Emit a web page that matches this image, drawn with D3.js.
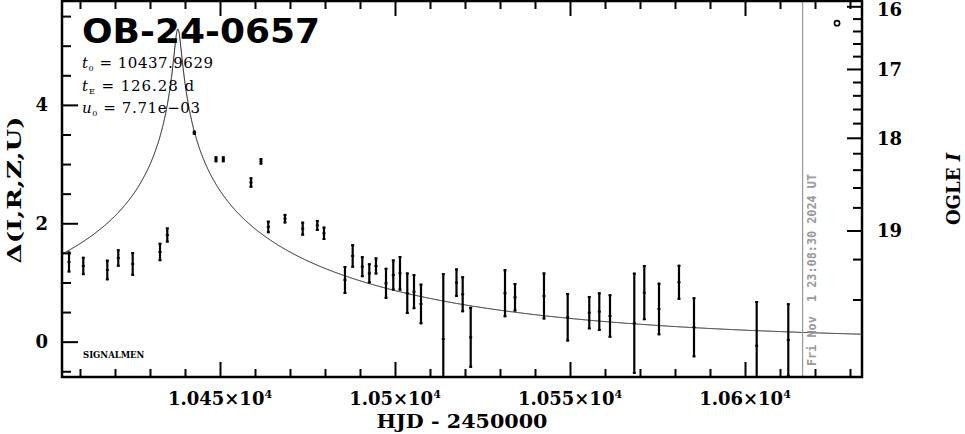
<!DOCTYPE html>
<html><head><meta charset="utf-8">
<script src="https://cdn.jsdelivr.net/npm/d3@7"></script>
<style>
html,body{margin:0;padding:0;background:#fff;}
svg{display:block;}
</style></head><body>
<svg id="chart" width="965" height="434"></svg>
<script>
// ---------------- data ----------------
const eventName = "OB-24-0657";
const t0 = 10437.9629, tE = 126.28, u0 = 7.71e-3;
const paramLines = [
  {sym: "t", sub: "0", val: " = 10437.9629"},
  {sym: "t", sub: "E", val: " = 126.28 d"},
  {sym: "u", sub: "0", val: " = 7.71e\u221203"}
];
const hjd = [10406.86,10410.94,10417.80,10420.94,10425.06,10432.86,10434.94,10442.66,10448.86,10450.94,
             10458.86,10461.71,10463.80,10468.57,10473.63,10477.80,10479.71,10485.71,10487.91,10490.66,
             10492.66,10494.57,10497.43,10499.51,10501.43,10503.51,10505.43,10507.43,10513.80,10517.57,
             10519.34,10521.63,10531.43,10534.29,10542.57,10549.34,10555.51,10558.37,10561.43,10568.37,
             10571.23,10575.43,10581.14,10585.43,10603.34,10612.37];
const delta = [1.346,1.279,1.211,1.414,1.313,1.515,1.802,3.530,3.081,3.081,
               2.689,3.047,1.938,2.078,1.909,1.963,1.831,1.042,1.448,1.267,
               1.155,1.279,0.986,1.127,1.155,0.818,0.845,0.637,0.046,0.997,
               0.801,0.074,0.818,0.750,0.772,0.412,0.490,0.507,0.434,0.311,
               0.828,0.552,1.003,0.243,-0.068,0.029];
const err = [0.177,0.155,0.174,0.147,0.200,0.155,0.127,0.035,0.050,0.050,
             0.088,0.056,0.106,0.080,0.118,0.093,0.113,0.236,0.198,0.177,
             0.169,0.144,0.262,0.262,0.292,0.351,0.296,0.343,1.110,0.240,
             0.304,0.515,0.405,0.240,0.397,0.409,0.282,0.326,0.367,0.855,
             0.465,0.444,0.296,0.507,0.755,0.620];
const markerHJD = [10626.3];
const markerDelta = [5.38];
const nowHJD = 10616.46;
const nowLabel = "Fri Nov  1 23:08:30 2024 UT";
const xDomain = [10404.86, 10633.43];
const yDomain = [-0.597, 5.755];
const xMinorTicks = d3.range(10410, 10640, 10);
const xMajorTicks = [10450, 10500, 10550, 10600];
const xMajorLabels = [["1.045\u00d710","4"],["1.05\u00d710","4"],["1.055\u00d710","4"],["1.06\u00d710","4"]];
const yMinorTicks = d3.range(-0.5, 5.51, 0.5);
const yMajorTicks = [0, 2, 4];
const magMinorTicks = d3.range(16, 19.41, 0.2);
const magMajorTicks = [16, 17, 18, 19];
const baseMag = 19.527, sourceFrac = 0.1359;

// ---------------- layout ----------------
const svg = d3.select("#chart");
const L = 62, R = 862, T = 1, B = 377;
const x = d3.scaleLinear().domain(xDomain).range([L, R]);
const y = d3.scaleLinear().domain(yDomain).range([B, T]);
const serif = '"DejaVu Serif","Liberation Serif",serif';

svg.append("defs").append("clipPath").attr("id","plotclip")
  .append("rect").attr("x",L).attr("y",T).attr("width",R-L).attr("height",B-T);

// magnitude -> delta (2.5 log A) mapping for right axis
function magToDelta(m){
  const f = Math.pow(10, -0.4*(m - baseMag));
  const A = (f - (1 - sourceFrac))/sourceFrac;
  return 2.5*Math.log10(A);
}

// model curve
function magnif(t){
  const tau = (t - t0)/tE;
  const u = Math.sqrt(u0*u0 + tau*tau);
  return (u*u + 2)/(u*Math.sqrt(u*u + 4));
}
const curveT = d3.range(xDomain[0], xDomain[1], 0.02);
const plot = svg.append("g").attr("clip-path","url(#plotclip)");
plot.append("path")
  .datum(curveT)
  .attr("fill","none").attr("stroke","#000").attr("stroke-width",1)
  .attr("d", d3.line().x(t=>x(t)).y(t=>y(2.5*Math.log10(magnif(t)))));

// now line
svg.append("line").attr("x1",x(nowHJD)).attr("x2",x(nowHJD)).attr("y1",T).attr("y2",B)
  .attr("stroke","#999").attr("stroke-width",1.2);
svg.append("text")
  .attr("transform",`translate(${x(nowHJD)+13.5},366) rotate(-90)`)
  .attr("font-family",'"DejaVu Sans Mono","Liberation Mono",monospace')
  .attr("font-weight","bold").attr("font-size",11.5).attr("fill","#999")
  .attr("textLength",192).attr("lengthAdjust","spacingAndGlyphs")
  .style("white-space","pre")
  .text(nowLabel);

// error bars
const pts = hjd.map((t,i)=>({t, d: delta[i], e: err[i]}));
const eb = plot.append("g").selectAll("g").data(pts).join("g");
eb.append("line")
  .attr("x1",d=>x(d.t)).attr("x2",d=>x(d.t))
  .attr("y1",d=>y(d.d+d.e)).attr("y2",d=>y(d.d-d.e))
  .attr("stroke","#000").attr("stroke-width",2.2);
eb.append("line")
  .attr("x1",d=>x(d.t)-1.5).attr("x2",d=>x(d.t)+1.5)
  .attr("y1",d=>y(d.d+d.e)+1).attr("y2",d=>y(d.d+d.e)+1)
  .attr("stroke","#000").attr("stroke-width",2);
eb.append("line")
  .attr("x1",d=>x(d.t)-1.5).attr("x2",d=>x(d.t)+1.5)
  .attr("y1",d=>y(d.d-d.e)-1).attr("y2",d=>y(d.d-d.e)-1)
  .attr("stroke","#000").attr("stroke-width",2);
eb.append("line")
  .attr("x1",d=>x(d.t)-1.5).attr("x2",d=>x(d.t)+1.5)
  .attr("y1",d=>y(d.d)).attr("y2",d=>y(d.d))
  .attr("stroke","#000").attr("stroke-width",2);

// marker circle
svg.selectAll("circle.mk").data(markerHJD).join("circle").attr("class","mk")
  .attr("cx",(t)=>x(t)).attr("cy",(t,i)=>y(markerDelta[i])).attr("r",2.6)
  .attr("fill","none").attr("stroke","#000").attr("stroke-width",1.6);

// axes ticks
function styleAxis(g){
  g.select(".domain").remove();
  g.selectAll(".tick line").attr("stroke","#000").attr("stroke-width",2);
  g.selectAll(".tick text").remove();
}
const xMinorOnly = xMinorTicks.filter(v=>!xMajorTicks.includes(v));
svg.append("g").attr("transform",`translate(0,${B})`)
  .call(d3.axisBottom(x).tickValues(xMinorOnly).tickSize(-8).tickSizeOuter(0)).call(styleAxis);
svg.append("g").attr("transform",`translate(0,${B})`)
  .call(d3.axisBottom(x).tickValues(xMajorTicks).tickSize(-15).tickSizeOuter(0)).call(styleAxis);
svg.append("g").attr("transform",`translate(0,${T})`)
  .call(d3.axisTop(x).tickValues(xMinorOnly).tickSize(-8).tickSizeOuter(0)).call(styleAxis);
svg.append("g").attr("transform",`translate(0,${T})`)
  .call(d3.axisTop(x).tickValues(xMajorTicks).tickSize(-15).tickSizeOuter(0)).call(styleAxis);
svg.append("g").attr("transform",`translate(${L},0)`)
  .call(d3.axisLeft(y).tickValues(yMinorTicks.filter(v=>!yMajorTicks.includes(v))).tickSize(-9).tickSizeOuter(0)).call(styleAxis);
svg.append("g").attr("transform",`translate(${L},0)`)
  .call(d3.axisLeft(y).tickValues(yMajorTicks).tickSize(-16).tickSizeOuter(0)).call(styleAxis);

// right magnitude ticks
svg.append("g").selectAll("line").data(magMinorTicks).join("line")
  .attr("x1",R).attr("x2",d=>magMajorTicks.some(m=>Math.abs(m-d)<1e-6)?R-15:R-9)
  .attr("y1",d=>y(magToDelta(d))).attr("y2",d=>y(magToDelta(d)))
  .attr("stroke","#000").attr("stroke-width",2);

// frame
svg.append("rect").attr("x",L).attr("y",T).attr("width",R-L).attr("height",B-T)
  .attr("fill","none").attr("stroke","#000").attr("stroke-width",2.5);

// tick labels
svg.append("g").selectAll("text").data(yMajorTicks).join("text")
  .attr("x",48).attr("y",d=>y(d)+6.5).attr("text-anchor","end")
  .attr("font-family",serif).attr("font-weight","bold").attr("font-size",18)
  .text(d=>d);
svg.append("g").selectAll("text").data(magMajorTicks).join("text")
  .attr("x",877).attr("y",d=>Math.max(y(magToDelta(d))+6.5,16)).attr("text-anchor","start")
  .attr("font-family",serif).attr("font-weight","bold").attr("font-size",18)
  .text(d=>d);
const xl = svg.append("g").selectAll("text").data(xMajorTicks).join("text")
  .attr("x",d=>x(d)).attr("y",405).attr("text-anchor","middle")
  .attr("font-family",serif).attr("font-weight","bold").attr("font-size",18);
xl.append("tspan").text((d,i)=>xMajorLabels[i][0]);
xl.append("tspan").attr("dy",-7).attr("font-size",11).text((d,i)=>xMajorLabels[i][1]);

// axis titles
svg.append("text").attr("x",(L+R)/2).attr("y",428).attr("text-anchor","middle")
  .attr("font-family",serif).attr("font-weight","bold").attr("font-size",19)
  .attr("textLength",171).attr("lengthAdjust","spacingAndGlyphs")
  .style("white-space","pre").text("HJD - 2450000");
svg.append("text").attr("transform","translate(21,190) rotate(-90)").attr("text-anchor","middle")
  .attr("font-family",serif).attr("font-weight","bold").attr("font-size",19)
  .attr("textLength",147).attr("lengthAdjust","spacingAndGlyphs")
  .text("\u0394(I,R,Z,U)");
const og = svg.append("text").attr("transform","translate(960,189) rotate(-90)").attr("text-anchor","middle")
  .attr("font-family",serif).attr("font-weight","bold").attr("font-size",18);
og.append("tspan").text("OGLE ");
og.append("tspan").attr("font-style","italic").text("I");

// title and parameters
svg.append("text").attr("x",82).attr("y",43)
  .attr("font-family",'"DejaVu Sans","Liberation Sans",sans-serif').attr("font-weight","bold").attr("font-size",34)
  .attr("textLength",238).attr("lengthAdjust","spacingAndGlyphs")
  .text(eventName);
const baselines = [68, 91, 113];
const lineWidths = [131, 112, 118];
const pl = svg.append("g").selectAll("text").data(paramLines).join("text")
  .attr("x",82).attr("y",(d,i)=>baselines[i])
  .attr("font-family",serif).attr("font-size",15)
  .attr("textLength",(d,i)=>lineWidths[i]).attr("lengthAdjust","spacing");
pl.append("tspan").attr("font-style","italic").text(d=>d.sym);
pl.append("tspan").attr("dy",3).attr("font-size",8).text(d=>d.sub);
pl.append("tspan").attr("dy",-3).text(d=>d.val);

svg.append("text").attr("x",83).attr("y",358)
  .attr("font-family",serif).attr("font-weight","bold").attr("font-size",8.5)
  .text("SIGNALMEN");
</script>
</body></html>
